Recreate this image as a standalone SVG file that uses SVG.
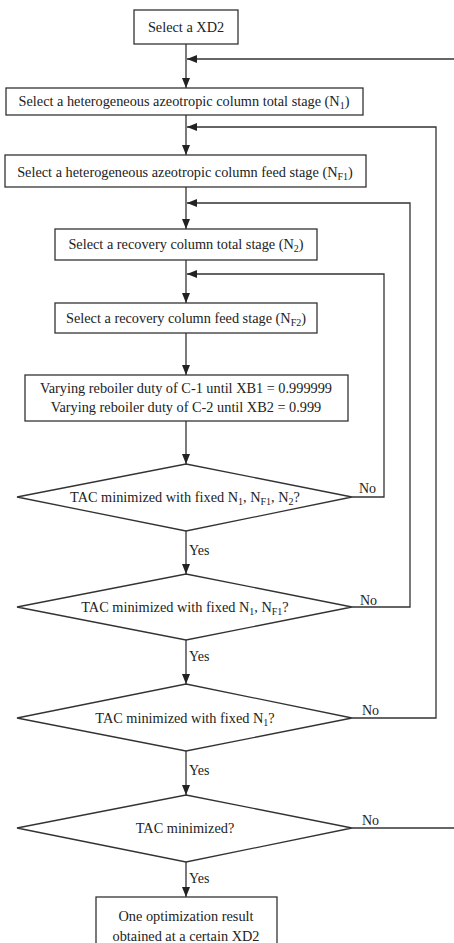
<svg xmlns="http://www.w3.org/2000/svg" width="454" height="943" viewBox="0 0 454 943">
<style>
.box{fill:#fff;stroke:#333;stroke-width:1.3}
.ln{fill:none;stroke:#333;stroke-width:1.3}
text{font-family:"Liberation Serif","Times New Roman",serif;font-size:14.3px;fill:#222;text-anchor:middle}
.lbl{text-anchor:start;font-size:14px}
.sub{font-size:10px}
</style>
<defs>
<marker id="ah" viewBox="0 0 10 8" refX="10" refY="4" markerWidth="10" markerHeight="8" markerUnits="userSpaceOnUse" orient="auto">
<path d="M0,0 L10,4 L0,8 Z" fill="#222"/>
</marker>
</defs>
<rect width="454" height="943" fill="#fff"/>
<g id="connectors">
<line class="ln" x1="186" y1="44" x2="186" y2="88" marker-end="url(#ah)"/>
<line class="ln" x1="454" y1="59" x2="187" y2="59" marker-end="url(#ah)"/>
<line class="ln" x1="186" y1="115" x2="186" y2="155" marker-end="url(#ah)"/>
<polyline class="ln" points="352,718 436,718 436,127 187,127" marker-end="url(#ah)"/>
<line class="ln" x1="186" y1="187" x2="186" y2="229" marker-end="url(#ah)"/>
<polyline class="ln" points="352,607 410,607 410,203 187,203" marker-end="url(#ah)"/>
<line class="ln" x1="186" y1="260" x2="186" y2="303" marker-end="url(#ah)"/>
<polyline class="ln" points="352,497 384,497 384,274 187,274" marker-end="url(#ah)"/>
<line class="ln" x1="186" y1="333" x2="186" y2="375" marker-end="url(#ah)"/>
<line class="ln" x1="186" y1="421" x2="186" y2="464" marker-end="url(#ah)"/>
<line class="ln" x1="186" y1="531" x2="186" y2="574" marker-end="url(#ah)"/>
<line class="ln" x1="186" y1="640" x2="186" y2="684" marker-end="url(#ah)"/>
<line class="ln" x1="186" y1="751" x2="186" y2="795" marker-end="url(#ah)"/>
<line class="ln" x1="352" y1="828" x2="454" y2="828"/>
<line class="ln" x1="186" y1="862" x2="186" y2="897" marker-end="url(#ah)"/>
<text class="lbl" x="359" y="493">No</text>
<text class="lbl" x="360" y="605">No</text>
<text class="lbl" x="362" y="715">No</text>
<text class="lbl" x="362" y="825">No</text>
<text class="lbl" x="189" y="555">Yes</text>
<text class="lbl" x="189" y="661">Yes</text>
<text class="lbl" x="189" y="775">Yes</text>
<text class="lbl" x="189" y="883">Yes</text>
</g>
<g id="n1"><rect class="box" x="134" y="10" width="104" height="34"/><text x="186" y="32">Select a XD2</text></g>
<g id="n2"><rect class="box" x="6" y="88" width="357" height="27"/><text x="184" y="106">Select a heterogeneous azeotropic column total stage (N<tspan class="sub" dy="3">1</tspan><tspan dy="-3">)</tspan></text></g>
<g id="n3"><rect class="box" x="5" y="155" width="361" height="32"/><text x="185" y="177">Select a heterogeneous azeotropic column feed stage (N<tspan class="sub" dy="3">F1</tspan><tspan dy="-3">)</tspan></text></g>
<g id="n4"><rect class="box" x="55" y="229" width="262" height="31"/><text x="186" y="249">Select a recovery column total stage (N<tspan class="sub" dy="3">2</tspan><tspan dy="-3">)</tspan></text></g>
<g id="n5"><rect class="box" x="55" y="303" width="262" height="30"/><text x="186" y="323">Select a recovery column feed stage (N<tspan class="sub" dy="3">F2</tspan><tspan dy="-3">)</tspan></text></g>
<g id="n6"><rect class="box" x="25" y="375" width="323" height="46"/><text x="186" y="393">Varying reboiler duty of C-1 until XB1 = 0.999999</text><text x="186" y="412">Varying reboiler duty of C-2 until XB2 = 0.999</text></g>
<g id="d1"><polygon class="box" points="186,464 352,497 186,531 17,497"/><text x="185" y="502">TAC minimized with fixed N<tspan class="sub" dy="3">1</tspan><tspan dy="-3">, N</tspan><tspan class="sub" dy="3">F1</tspan><tspan dy="-3">, N</tspan><tspan class="sub" dy="3">2</tspan><tspan dy="-3">?</tspan></text></g>
<g id="d2"><polygon class="box" points="186,574 352,607 186,640 17,607"/><text x="185" y="612">TAC minimized with fixed N<tspan class="sub" dy="3">1</tspan><tspan dy="-3">, N</tspan><tspan class="sub" dy="3">F1</tspan><tspan dy="-3">?</tspan></text></g>
<g id="d3"><polygon class="box" points="186,684 352,718 186,751 17,718"/><text x="185" y="723">TAC minimized with fixed N<tspan class="sub" dy="3">1</tspan><tspan dy="-3">?</tspan></text></g>
<g id="d4"><polygon class="box" points="186,795 352,828 186,862 17,828"/><text x="185" y="833">TAC minimized?</text></g>
<g id="n7"><rect class="box" x="96" y="897" width="181" height="60"/><text x="186" y="921">One optimization result</text><text x="186" y="941">obtained at a certain XD2</text></g>
</svg>
